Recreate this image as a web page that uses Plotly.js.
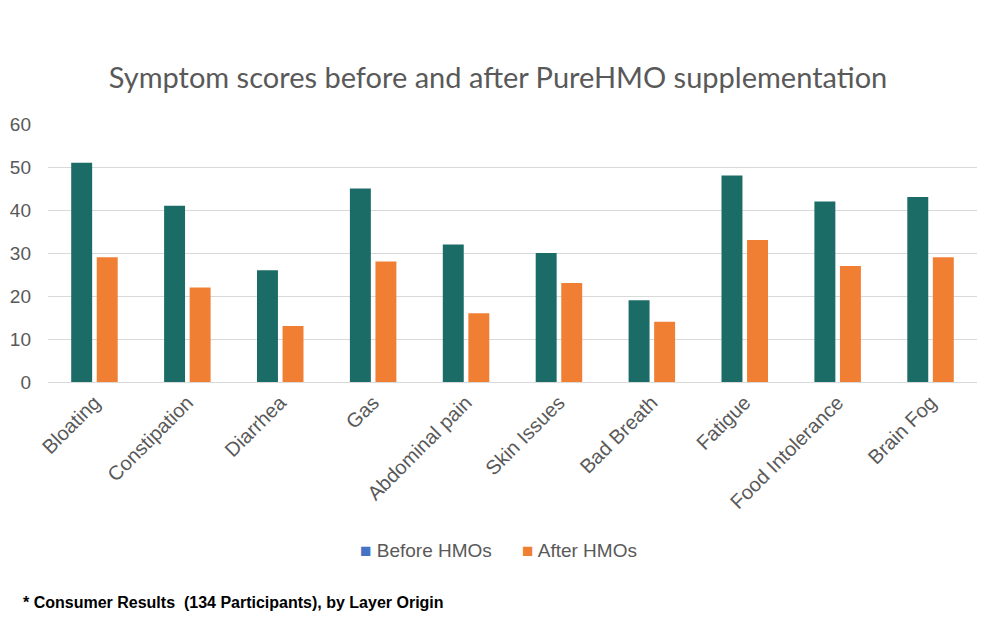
<!DOCTYPE html>
<html>
<head>
<meta charset="utf-8">
<script src="https://cdn.plot.ly/plotly-3.0.1.min.js"></script>
<style>html,body{margin:0;padding:0;background:#fff;}#chart{width:1000px;height:635px;}</style>
</head>
<body>
<div id="chart"></div>
<script>
const categories = ["Bloating","Constipation","Diarrhea","Gas","Abdominal pain","Skin Issues","Bad Breath","Fatigue","Food Intolerance","Brain Fog"];
const beforeValues = [51,41,26,45,32,30,19,48,42,43];
const afterValues = [29,22,13,28,16,23,14,33,27,29];
const seriesNames = ["Before HMOs","After HMOs"];
const legendColors = ["#4472c4","#f07f34"];
const barColors = ["#1b6b66","#f07f34"];
const yTicks = [0,10,20,30,40,50,60];

const traces = [
  {type:"bar", x:categories, y:beforeValues, name:seriesNames[0], marker:{color:barColors[0]}},
  {type:"bar", x:categories, y:afterValues, name:seriesNames[1], marker:{color:barColors[1]}}
];

const legendFont = {family:"Liberation Sans, Arial, sans-serif", size:19, color:"#595959"};
const layout = {
  width:1000, height:635,
  margin:{l:48, r:23, t:124, b:253},
  paper_bgcolor:"#ffffff", plot_bgcolor:"#ffffff",
  barmode:"group", bargap:0.45, bargroupgap:0.18,
  showlegend:false,
  title:{text:"Symptom scores before and after PureHMO supplementation", x:0.498, xanchor:"center", y:0.877, yanchor:"middle",
         font:{family:"Lato, sans-serif", size:29, color:"#595959"}},
  xaxis:{type:"category", tickangle:-45, tickfont:{family:"Liberation Sans, Arial, sans-serif", size:20, color:"#595959"},
         showgrid:false, showline:true, linecolor:"#d9d9d9", linewidth:1, ticks:"", fixedrange:true},
  yaxis:{range:[0,60], tickvals:yTicks, tickfont:{family:"Liberation Sans, Arial, sans-serif", size:19, color:"#595959"},
         ticklabelstandoff:16,
         showgrid:true, gridcolor:"#d9d9d9", gridwidth:1, zeroline:true, zerolinecolor:"#d9d9d9", showline:false, ticks:"", fixedrange:true},
  annotations:[
    {text:"<span style='color:"+legendColors[0]+"'>■</span> "+seriesNames[0], xref:"paper", yref:"paper",
     x:0.334, xanchor:"left", y:-0.655, yanchor:"middle", showarrow:false, font:legendFont},
    {text:"<span style='color:"+legendColors[1]+"'>■</span> "+seriesNames[1], xref:"paper", yref:"paper",
     x:0.508, xanchor:"left", y:-0.655, yanchor:"middle", showarrow:false, font:legendFont},
    {text:"<b>* Consumer Results  (134 Participants), by Layer Origin</b>", xref:"paper", yref:"paper",
     x:-0.029, xanchor:"left", y:-0.853, yanchor:"middle", showarrow:false,
     font:{family:"Liberation Sans, Arial, sans-serif", size:16, color:"#000000"}}
  ]
};

Plotly.newPlot("chart", traces, layout, {displayModeBar:false, staticPlot:true});
</script>
</body>
</html>
